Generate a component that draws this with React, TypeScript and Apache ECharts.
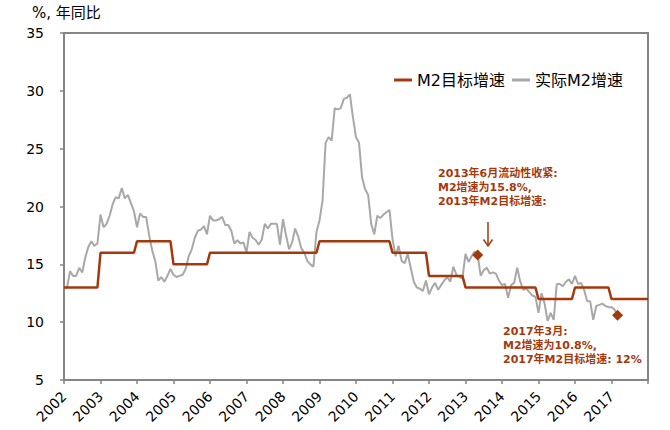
import React, { useEffect, useRef } from "react";
import * as echarts from "echarts";

// Yearly M2 growth targets (%)
const targetYears = [2002, 2003, 2004, 2005, 2006, 2007, 2008, 2009, 2010, 2011, 2012, 2013, 2014, 2015, 2016, 2017];
const targetM2 = [13, 16, 17, 15, 16, 16, 16, 17, 17, 16, 14, 13, 13, 12, 13, 12];
const targetEndYear = 2018;

// Actual M2 growth, monthly from Jan 2002 (%)
const actualStartYear = 2002;
const actualM2 = [
  13.0, 13.0, 14.4, 14.0, 14.0, 14.7, 14.3, 15.6, 16.5, 17.0, 16.6, 16.8, // 2002
  19.3, 18.2, 18.5, 19.2, 20.2, 20.8, 20.7, 21.6, 20.7, 21.0, 20.3, 19.6, // 2003
  18.2, 19.4, 19.1, 19.1, 17.5, 16.2, 15.3, 13.6, 13.9, 13.5, 14.0, 14.6, // 2004
  14.1, 13.9, 14.0, 14.1, 14.6, 15.7, 16.3, 17.3, 17.9, 18.0, 18.3, 17.6, // 2005
  19.2, 18.8, 18.8, 18.9, 19.1, 18.4, 18.4, 17.9, 16.8, 17.1, 16.8, 16.9, // 2006
  16.0, 17.8, 17.3, 17.1, 16.7, 17.1, 18.5, 18.1, 18.5, 18.5, 18.5, 16.7, // 2007
  18.9, 17.5, 16.3, 16.9, 18.1, 17.4, 16.4, 16.0, 15.3, 15.0, 14.8, 17.8, // 2008
  18.8, 20.5, 25.5, 26.0, 25.7, 28.5, 28.4, 28.5, 29.3, 29.4, 29.7, 27.7, // 2009
  26.0, 25.5, 22.5, 21.5, 21.0, 18.5, 17.6, 19.2, 19.0, 19.3, 19.5, 19.7, // 2010
  17.2, 15.7, 16.6, 15.3, 15.1, 15.9, 14.7, 13.5, 13.0, 12.9, 12.7, 13.6, // 2011
  12.4, 13.0, 13.4, 12.8, 13.2, 13.6, 13.9, 13.5, 14.8, 14.1, 13.9, 13.8, // 2012
  15.9, 15.2, 15.7, 16.1, 15.8, 14.0, 14.5, 14.7, 14.2, 14.3, 14.2, 13.6, // 2013
  13.2, 13.3, 12.1, 13.2, 13.4, 14.7, 13.5, 12.8, 12.9, 12.6, 12.3, 12.2, // 2014
  10.8, 12.5, 11.6, 10.1, 10.8, 10.2, 13.3, 13.3, 13.1, 13.5, 13.7, 13.3, // 2015
  14.0, 13.3, 13.4, 12.8, 11.8, 11.8, 10.2, 11.4, 11.5, 11.6, 11.4, 11.3, // 2016
  11.3, 11.1, 10.6, // 2017
];

// Highlighted months [year, month 1-12]
const highlightMonths: [number, number][] = [[2013, 5], [2017, 3]];

const yTicks = { min: 5, max: 35, interval: 5 };
const xTicks = { min: 2002, max: 2018, interval: 1 };

const seriesNames = ["M2目标增速", "实际M2增速"];
const yAxisTitle = "%, 年同比";
const note2013 = ["2013年6月流动性收紧:", "M2增速为15.8%,", "2013年M2目标增速:"];
const note2017 = ["2017年3月:", "M2增速为10.8%,", "2017年M2目标增速: 12%"];

const RED = "#A5390C";
const GRAY = "#A8A8A8";
const AXIS = "#858585";
const FONT = "'DejaVu Sans', 'Noto Sans CJK SC', sans-serif";

export default function App() {
  const ref = useRef<HTMLDivElement>(null);
  useEffect(() => {
    document.body.style.margin = "0";
    if (!ref.current) return;
    const chart = echarts.init(ref.current, undefined, { renderer: "svg" });

    const targetData: [number, number][] = [];
    targetYears.forEach((y, i) => {
      for (let m = 0; m < 12; m++) targetData.push([y + m / 12, targetM2[i]]);
    });
    targetData.push([targetEndYear, targetM2[targetM2.length - 1]]);

    const actualData: [number, number][] = actualM2.map((v, i) => [actualStartYear + i / 12, v]);

    const highlightData: [number, number][] = highlightMonths.map(([y, m]) => {
      const idx = (y - actualStartYear) * 12 + (m - 1);
      return [y + (m - 1) / 12, actualM2[idx]];
    });

    chart.setOption({
      animation: false,
      textStyle: { fontFamily: FONT },
      grid: {
        left: 64,
        right: 22,
        top: 33,
        bottom: 50,
        show: true,
        borderColor: AXIS,
        borderWidth: 2,
      },
      legend: {
        left: 389,
        top: 67,
        itemWidth: 18,
        itemHeight: 3,
        itemGap: 7,
        icon: "rect",
        data: seriesNames,
        textStyle: { fontSize: 16, color: "#000", fontFamily: FONT },
      },
      xAxis: {
        type: "value",
        min: xTicks.min,
        max: xTicks.max,
        interval: xTicks.interval,
        axisLine: { show: true, lineStyle: { color: AXIS, width: 2 } },
        axisTick: { show: true, length: 4, lineStyle: { color: AXIS, width: 1.5 } },
        splitLine: { show: false },
        axisLabel: {
          rotate: 45,
          margin: 14,
          fontSize: 14,
          color: "#000",
          fontFamily: FONT,
          formatter: (v: number) => (v >= xTicks.max ? "" : String(v)),
        },
      },
      yAxis: {
        type: "value",
        min: yTicks.min,
        max: yTicks.max,
        interval: yTicks.interval,
        axisLine: { show: true, lineStyle: { color: AXIS, width: 2 } },
        axisTick: { show: true, length: 4, lineStyle: { color: AXIS, width: 1.5 } },
        splitLine: { show: false },
        axisLabel: { margin: 20, fontSize: 14, color: "#000", fontFamily: FONT },
      },
      series: [
        {
          name: seriesNames[0],
          type: "line",
          data: targetData,
          showSymbol: false,
          symbol: "none",
          lineStyle: { color: RED, width: 2.5 },
          itemStyle: { color: RED },
          z: 3,
        },
        {
          name: seriesNames[1],
          type: "line",
          data: actualData,
          showSymbol: false,
          symbol: "none",
          lineStyle: { color: GRAY, width: 2 },
          itemStyle: { color: GRAY },
          z: 2,
        },
        {
          name: "highlight",
          type: "scatter",
          data: highlightData,
          symbol: "diamond",
          symbolSize: 11,
          itemStyle: { color: RED, opacity: 1 },
          z: 5,
        },
      ],
      graphic: [
        {
          type: "text",
          left: 32,
          top: 5,
          style: { text: yAxisTitle, fontSize: 15, fill: "#000", fontFamily: FONT },
        },
        {
          type: "text",
          x: 438,
          y: 166,
          style: {
            text: note2013.join("\n"),
            fontSize: 11,
            fontWeight: "bold",
            lineHeight: 14,
            fill: RED,
            fontFamily: FONT,
          },
        },
        {
          type: "text",
          x: 503,
          y: 324,
          style: {
            text: note2017.join("\n"),
            fontSize: 11,
            fontWeight: "bold",
            lineHeight: 14,
            fill: RED,
            fontFamily: FONT,
          },
        },
        {
          type: "line",
          shape: { x1: 488, y1: 222, x2: 488, y2: 246 },
          style: { stroke: RED, lineWidth: 1.5 },
        },
        {
          type: "polyline",
          shape: { points: [[483.5, 239.5], [488, 246], [492.5, 239.5]] },
          style: { stroke: RED, lineWidth: 1.5, fill: "none" },
        },
      ],
    });
    return () => chart.dispose();
  }, []);
  return <div ref={ref} style={{ width: 670, height: 430 }} />;
}
